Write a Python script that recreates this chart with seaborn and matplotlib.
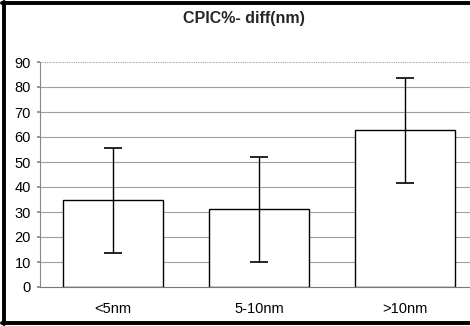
import matplotlib
matplotlib.use("Agg")
import matplotlib.pyplot as plt
import seaborn as sns
import pandas as pd
from matplotlib.lines import Line2D

categories = ["<5nm", "5-10nm", ">10nm"]
values = [34.7, 31.2, 62.8]
errors = [21.0, 21.0, 21.0]
yticks = [0, 10, 20, 30, 40, 50, 60, 70, 80, 90]

sns.set_theme(style="white")
plt.rcParams['font.family'] = ['Liberation Sans', 'DejaVu Sans']

df = pd.DataFrame({"cat": categories, "val": values})

fig = plt.figure(figsize=(4.7, 3.26), dpi=100)
ax = fig.add_axes([40/470, 39/326, 430/470, 225/326])

sns.barplot(data=df, x="cat", y="val", ax=ax, color="white", edgecolor="black",
            linewidth=1.0, width=0.685, errorbar=None, saturation=1)

centers = [p.get_x() + p.get_width()/2 for p in ax.patches]
ax.errorbar(centers, values, yerr=errors, fmt="none", ecolor="black",
            elinewidth=1.0, capsize=6.5, capthick=1.2, zorder=5)

ax.set_xlim(-0.5, -0.5 + 430/146)
ax.set_ylim(0, 90)
ax.set_yticks(yticks)
for y in yticks[1:-1]:
    ax.axhline(y, color="#a0a0a0", linewidth=0.8, zorder=0)
ax.axhline(90, color="#a0a0a0", linewidth=0.8, linestyle=(0, (1, 1)), zorder=0)

ax.set_xlabel("")
ax.set_ylabel("")
fig.text(244/470, 1 - 19/326, "CPIC%- diff(nm)", fontsize=11.5, fontweight="bold",
         ha="center", va="center")

for s in ["top", "right"]:
    ax.spines[s].set_visible(False)
ax.spines["left"].set_color("#888888")
ax.spines["left"].set_linestyle((0, (1, 1)))
ax.spines["left"].set_linewidth(0.8)
ax.spines["bottom"].set_color("#777777")
ax.spines["bottom"].set_linewidth(0.8)

ax.set_xticks([0.5, 1.5], minor=True)
ax.tick_params(axis="x", which="major", length=0, labelsize=10.5, pad=11, colors="black")
ax.tick_params(axis="x", which="minor", length=3, color="#777777", direction="out")
ax.tick_params(axis="y", length=2.5, labelsize=10.5, pad=4, colors="black", left=True, color="#888888")

# black frame on left, top and bottom
fig.lines.append(Line2D([3.5/470, 3.5/470], [2/326, 1 - 2/326], transform=fig.transFigure,
                        color="black", linewidth=2.8))
fig.lines.append(Line2D([2/470, 1], [1 - 2.5/326, 1 - 2.5/326], transform=fig.transFigure,
                        color="black", linewidth=2.8))
fig.lines.append(Line2D([2/470, 1], [3.5/326, 3.5/326], transform=fig.transFigure,
                        color="black", linewidth=2.8))

fig.savefig("out.png", dpi=100)
